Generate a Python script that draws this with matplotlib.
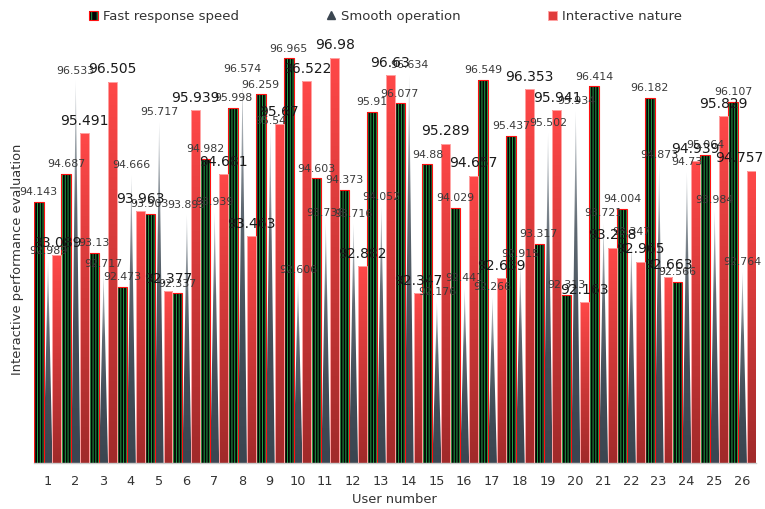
import numpy as np
import matplotlib
matplotlib.use("Agg")
import matplotlib.pyplot as plt
from matplotlib.path import Path
from matplotlib.patches import PathPatch, Patch
from matplotlib.lines import Line2D
from matplotlib.colors import LinearSegmentedColormap

users = [str(i) for i in range(1, 27)]

fast_response = [94.143, 94.687, 93.13, 92.473, 93.903, 92.337, 94.982, 95.998, 96.259, 96.965,
                 94.603, 94.373, 95.91, 96.077, 94.88, 94.029, 96.549, 95.437, 93.317, 92.313,
                 96.414, 94.004, 96.182, 92.566, 95.064, 96.107]
smooth_operation = [92.989, 96.533, 92.717, 94.666, 95.717, 93.893, 93.939, 96.574, 95.54, 92.606,
                    93.738, 93.716, 94.052, 96.634, 92.176, 92.441, 92.266, 92.915, 95.502, 95.934,
                    93.721, 93.347, 94.873, 94.73, 93.984, 92.764]
interactive_nature = [93.089, 95.491, 96.505, 93.963, 92.377, 95.939, 94.681, 93.463, 95.67, 96.522,
                      96.98, 92.882, 96.63, 92.347, 95.289, 94.657, 92.639, 96.353, 95.941, 92.163,
                      93.238, 92.965, 92.663, 94.939, 95.829, 94.757]

Y_MIN, Y_MAX = 89, 97

plt.rcParams['font.family'] = ['DejaVu Sans']
plt.rcParams['hatch.linewidth'] = 0.7

fig = plt.figure(figsize=(7.65, 5.09), dpi=100)
ax = fig.add_axes([0.0439, 0.0904, 0.9441, 0.7984])
x = np.arange(len(users))

red_cmap = LinearSegmentedColormap.from_list('redfade', ['#a02a2a', '#cf3838', '#ff4848'])
spike_cmap = LinearSegmentedColormap.from_list('spikefade', ['#3b4651', '#424d58', '#5f6972', '#d0d5d9'])
grad = np.linspace(0, 1, 256).reshape(-1, 1)


def triangle_path(cx, w, top, base):
    return Path([(cx - w / 2, base), (cx + w / 2, base), (cx, top), (cx - w / 2, base)],
                [Path.MOVETO, Path.LINETO, Path.LINETO, Path.CLOSEPOLY])


# Smooth operation: gradient triangles
spike_off, spike_w = 0.02, 0.32
for xi, v in zip(x, smooth_operation):
    cx = xi + spike_off
    patch = PathPatch(triangle_path(cx, spike_w, v, Y_MIN), facecolor='none', edgecolor='none')
    ax.add_patch(patch)
    im = ax.imshow(grad, cmap=spike_cmap, origin='lower', aspect='auto',
                   extent=[cx - spike_w / 2, cx + spike_w / 2, Y_MIN, v], zorder=1)
    im.set_clip_path(patch)

# Fast response speed: black bars with green stripes and red outline
fast_off, fast_w = -0.32, 0.36
ax.bar(x + fast_off, fast_response, width=fast_w, color='#030303', edgecolor='#22a24a',
       hatch='||||||', linewidth=0, zorder=2)
ax.bar(x + fast_off, fast_response, width=fast_w, fill=False, edgecolor='#ff1010',
       linewidth=0.8, zorder=2.1)

# Interactive nature: red gradient bars
red_off, red_w = 0.34, 0.32
red_bars = ax.bar(x + red_off, interactive_nature, width=red_w, facecolor='none',
                  edgecolor='#ffa3a3', linewidth=0.7, zorder=2.2)
for bar, v in zip(red_bars, interactive_nature):
    x0 = bar.get_x()
    im = ax.imshow(grad, cmap=red_cmap, origin='lower', aspect='auto',
                   extent=[x0, x0 + bar.get_width(), Y_MIN, v], zorder=2)
    im.set_clip_path(bar)

# Value labels
labels_drawn = []
for xi, v in zip(x, fast_response):
    labels_drawn.append(ax.annotate(f"{v:g}", (xi + fast_off, v), xytext=(0, 3.4),
                                    textcoords='offset points', ha='center', va='bottom',
                                    fontsize=7.9, color='#3a3a3a', zorder=10))
for xi, v in zip(x, smooth_operation):
    labels_drawn.append(ax.annotate(f"{v:g}", (xi + spike_off, v), xytext=(0, 3.4),
                                    textcoords='offset points', ha='center', va='bottom',
                                    fontsize=7.9, color='#3a3a3a', zorder=10))
for xi, v in zip(x, interactive_nature):
    labels_drawn.append(ax.annotate(f"{v:g}", (xi + red_off, v), xytext=(0, 3.8),
                                    textcoords='offset points', ha='center', va='bottom',
                                    fontsize=10, color='#1a1a1a', zorder=11))

ax.set_xlim(-0.5, len(users) - 0.5)
ax.set_ylim(Y_MIN, Y_MAX)
ax.set_xticks(x)
ax.set_xticklabels(users)
ax.set_yticks([])
ax.tick_params(axis='x', length=0, pad=9, labelsize=9.3, labelcolor='#333333')
for side in ('left', 'top', 'right'):
    ax.spines[side].set_visible(False)
ax.spines['bottom'].set_color('#cccccc')
ax.spines['bottom'].set_linewidth(1)

ax.set_xlabel('User number', fontsize=9.4, color='#333333', labelpad=3)
ax.set_ylabel('Interactive performance evaluation', fontsize=9.4, color='#333333', labelpad=7)

handles = [
    (Patch(facecolor='#030303', edgecolor='#22a24a', hatch='|||', linewidth=0),
     Patch(fill=False, edgecolor='#ff1010', linewidth=0.8)),
    Line2D([], [], linestyle='none', marker='^', markersize=6, color='#3b4651'),
    Patch(facecolor='#e03c3c', edgecolor='#ffa3a3', linewidth=0.7),
]
names = ['Fast response speed', 'Smooth operation', 'Interactive nature']
fig.legend(handles, names, loc='center', bbox_to_anchor=(0.504, 0.968), ncol=3,
           frameon=False, fontsize=9.5, labelcolor='#333333', handlelength=0.7,
           handleheight=0.7, handletextpad=0.4, columnspacing=6.6)

# keep value labels inside the canvas
fig.canvas.draw()
renderer = fig.canvas.get_renderer()
fig_w = fig.bbox.width
for t in labels_drawn:
    bb = t.get_window_extent(renderer)
    overflow = bb.x1 - (fig_w - 2)
    if overflow > 0:
        dx, dy = t.xyann
        t.xyann = (dx - overflow * 72 / fig.dpi, dy)

fig.savefig('out.png', dpi=100)
